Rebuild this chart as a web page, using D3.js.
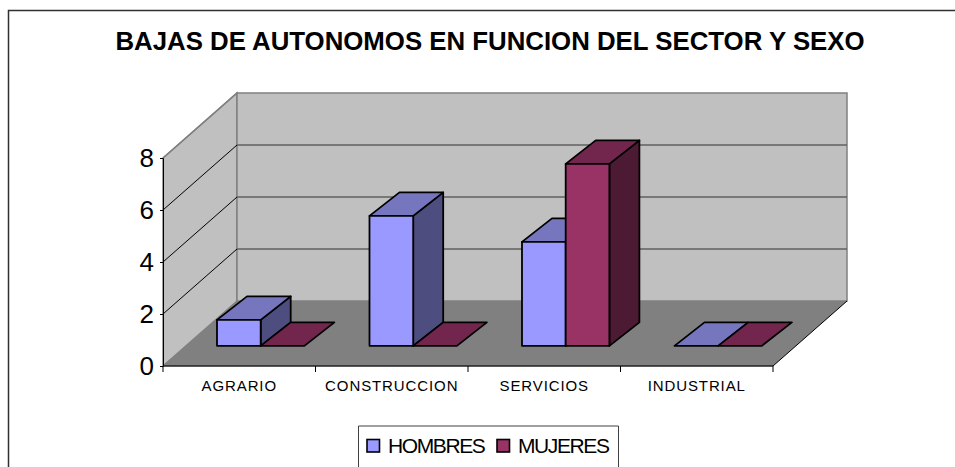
<!DOCTYPE html>
<html>
<head>
<meta charset="utf-8">
<script src="https://cdn.jsdelivr.net/npm/d3@7"></script>
<style>
  html, body { margin: 0; padding: 0; background: #fff; }
  svg { display: block; font-family: "Liberation Sans", sans-serif; }
</style>
</head>
<body>
<svg id="chart" width="955" height="467"></svg>
<script>
const chartTitle = "BAJAS DE AUTONOMOS EN FUNCION DEL SECTOR Y SEXO";
const categories = ["AGRARIO", "CONSTRUCCION", "SERVICIOS", "INDUSTRIAL"];
const hombres = [1, 5, 4, 0];
const mujeres = [0, 0, 7, 0];
const yTicks = [0, 2, 4, 6, 8];

const seriesList = [
    { name: "HOMBRES", values: hombres, front: "#9999ff", top: "#7676bf", side: "#4d4d80" },
    { name: "MUJERES", values: mujeres, front: "#993366", top: "#73264d", side: "#4d1a33" }
];

const svg = d3.select("#chart");

// Front plane of the 3D box, and how far the back wall is shifted from it.
const x = d3.scaleBand().domain(categories).range([163, 773]);
const y = d3.scaleLinear().domain([0, 8]).range([366, 158]);
const depthX = d3.scaleLinear().domain([0, 1]).range([0, 74]);
const depthY = d3.scaleLinear().domain([0, 1]).range([0, -65]);

// Where the bars stand on the floor, and the run/rise of their top faces.
const barDepthFront = 0.31;
const barRun = 30, barRise = 23.5;
const barWidth = 43.7;
const barNudge = -1.5;

const pt = (px, py, d) => [px + depthX(d), py + depthY(d)];
const barPt = (px, py, back) => [
    px + depthX(barDepthFront) + (back ? barRun : 0),
    py + depthY(barDepthFront) - (back ? barRise : 0)
];
const poly = (pts) => pts.map((p) => p.join(",")).join(" ");

// Outer frame: only left and top edges show, the rest runs off the picture.
svg.append("path")
    .attr("d", "M8.5,467V10.5H955")
    .attr("fill", "none")
    .attr("stroke", "#303030")
    .attr("stroke-width", 1.5);

svg.append("text")
    .attr("x", 490)
    .attr("y", 49.5)
    .attr("text-anchor", "middle")
    .attr("font-size", 25.8)
    .attr("font-weight", "bold")
    .text(chartTitle);

const x0 = x.range()[0], x1 = x.range()[1];

// Side wall and back wall.
svg.append("polygon")
    .attr("points", poly([pt(x0, y(0), 0), pt(x0, y(8), 0), pt(x0, y(8), 1), pt(x0, y(0), 1)]))
    .attr("fill", "#c0c0c0")
    .attr("stroke", "#808080")
    .attr("stroke-width", 1.5);

svg.append("polygon")
    .attr("points", poly([pt(x0, y(0), 1), pt(x0, y(8), 1), pt(x1, y(8), 1), pt(x1, y(0), 1)]))
    .attr("fill", "#c0c0c0")
    .attr("stroke", "#808080")
    .attr("stroke-width", 1.5);

// Floor.
svg.append("polygon")
    .attr("points", poly([pt(x0, y(0), 0), pt(x1, y(0), 0), pt(x1, y(0), 1), pt(x0, y(0), 1)]))
    .attr("fill", "#808080");

// Gridlines: black across the side wall, grey on the back wall.
const inner = yTicks.filter((t) => t > 0);

svg.append("g").selectAll("line")
    .data(inner)
    .enter()
    .append("line")
    .attr("x1", x0)
    .attr("y1", (d) => y(d))
    .attr("x2", x0 + depthX(1))
    .attr("y2", (d) => y(d) + depthY(1))
    .attr("stroke", (d) => d == 8 ? "#808080" : "#000")
    .attr("stroke-width", (d) => d == 8 ? 1.5 : 1);

svg.append("g").selectAll("line")
    .data(inner.filter((t) => t < 8))
    .enter()
    .append("line")
    .attr("x1", x0 + depthX(1))
    .attr("y1", (d) => y(d) + depthY(1))
    .attr("x2", x1 + depthX(1))
    .attr("y2", (d) => y(d) + depthY(1))
    .attr("stroke", "#606060")
    .attr("stroke-width", 1.5);

// Floor edge on the right.
svg.append("line")
    .attr("x1", x1).attr("y1", y(0))
    .attr("x2", x1 + depthX(1)).attr("y2", y(0) + depthY(1))
    .attr("stroke", "#000").attr("stroke-width", 1);

// Axes.
const yAxis = d3.axisLeft(y).tickValues(yTicks).tickSize(3).tickPadding(6);
const gy = svg.append("g").attr("transform", `translate(${x0},0)`).call(yAxis);
gy.select(".domain").attr("stroke", "#000").attr("stroke-width", 1);
gy.selectAll("text").attr("font-size", 26).attr("font-family", "Liberation Sans").attr("fill", "#000");

const xAxis = d3.axisBottom(x).tickSize(0).tickPadding(14);
const gx = svg.append("g").attr("transform", `translate(0,${y(0)})`).call(xAxis);
gx.select(".domain").remove();
gx.selectAll("text")
    .attr("font-size", 15)
    .attr("letter-spacing", 0.9)
    .attr("font-family", "Liberation Sans")
    .attr("fill", "#000");

svg.append("line")
    .attr("x1", x0).attr("y1", y(0))
    .attr("x2", x1).attr("y2", y(0))
    .attr("stroke", "#202020").attr("stroke-width", 1.5);

// Tick marks between categories.
svg.append("g").selectAll("line")
    .data(categories.map((c) => x(c)).concat([x1]))
    .enter()
    .append("line")
    .attr("x1", (d) => d).attr("x2", (d) => d)
    .attr("y1", y(0)).attr("y2", y(0) + 6)
    .attr("stroke", "#000").attr("stroke-width", 1);

// Bars, back-to-front is just left-to-right here.
function drawBar(g, s, i, cat) {
    const v = s.values[i];
    const left = x(cat) + x.bandwidth() / 2 + barNudge + (s == seriesList[0] ? -barWidth : 0);
    const right = left + barWidth;
    const faces = [];

    if (v > 0) {
        faces.push({ fill: s.side, pts: [barPt(right, y(0), false), barPt(right, y(v), false), barPt(right, y(v), true), barPt(right, y(0), true)] });
    }
    faces.push({ fill: s.top, pts: [barPt(left, y(v), false), barPt(right, y(v), false), barPt(right, y(v), true), barPt(left, y(v), true)] });
    if (v > 0) {
        faces.push({ fill: s.front, pts: [barPt(left, y(0), false), barPt(right, y(0), false), barPt(right, y(v), false), barPt(left, y(v), false)] });
    }

    for (const f of faces) {
        g.append("polygon")
            .attr("points", poly(f.pts))
            .attr("fill", f.fill)
            .attr("stroke", "#000")
            .attr("stroke-width", 1.8)
            .attr("stroke-linejoin", "round");
    }
}

const bars = svg.append("g");
categories.forEach((cat, i) => {
    seriesList.forEach((s) => drawBar(bars, s, i, cat));
});

// Legend, its bottom edge is cut off by the picture.
const legend = svg.append("g");
legend.append("path")
    .attr("d", "M358.5,467V426H618.5V467")
    .attr("fill", "#fff")
    .attr("stroke", "#404040")
    .attr("stroke-width", 1);

const legendX = d3.scaleOrdinal().domain(seriesList.map((s) => s.name)).range([367, 497]);

const item = legend.selectAll("g")
    .data(seriesList)
    .enter()
    .append("g")
    .attr("transform", (d) => `translate(${legendX(d.name)},439.5)`);

item.append("rect")
    .attr("width", 12.5)
    .attr("height", 12.5)
    .attr("fill", (d) => d.front)
    .attr("stroke", "#000")
    .attr("stroke-width", 1.6);

item.append("text")
    .attr("x", 21)
    .attr("y", 13)
    .attr("font-size", 21)
    .attr("letter-spacing", -1.4)
    .text((d) => d.name);
</script>
</body>
</html>
